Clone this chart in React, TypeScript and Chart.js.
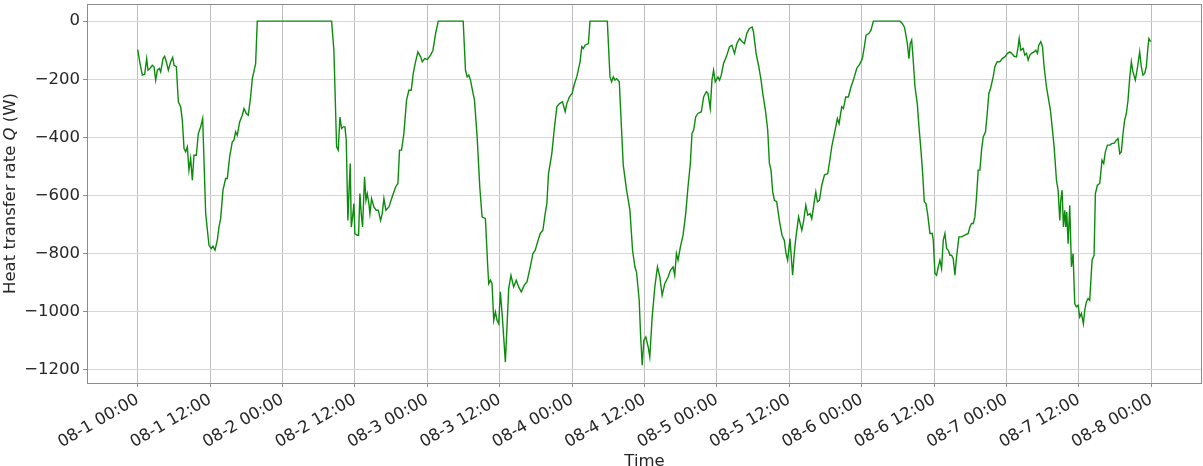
import React, { useEffect, useRef } from "react";
import { Chart, registerables } from "chart.js";

Chart.register(...registerables);

// hours since 08-1 00:00
const hours: number[] = [
  0.0, 0.39, 0.77, 1.16, 1.49, 1.71, 2.04, 2.43, 2.71, 2.98, 3.26, 3.59, 3.81, 4.2, 4.47, 4.75, 5.08, 5.47, 5.8, 6.02,
  6.41, 6.74, 7.12, 7.4, 7.68, 7.95, 8.23, 8.5, 8.78, 9.06, 9.33, 9.72, 10.05, 10.44, 10.77, 11.27, 11.82, 12.2, 12.48, 12.81,
  13.2, 13.47, 13.75, 14.14, 14.58, 14.85, 15.24, 15.68, 15.96, 16.23, 16.51, 16.9, 17.34, 17.62, 18.0, 18.33, 18.72, 19.0, 19.55, 19.82,
  32.14, 32.52, 32.97, 33.24, 33.52, 33.79, 34.07, 34.35, 34.57, 34.84, 35.06, 35.23, 35.4, 35.62, 35.84, 36.0, 36.39, 36.61, 36.83, 37.05,
  37.27, 37.6, 37.83, 38.05, 38.32, 38.49, 38.76, 39.15, 39.54, 39.87, 40.26, 40.53, 40.81, 41.14, 41.64, 42.19, 42.74, 43.13, 43.4, 43.73,
  44.12, 44.56, 44.95, 45.34, 45.67, 46.05, 46.44, 46.9, 47.17, 47.56, 48.0, 48.55, 48.94, 49.38, 49.82,
  53.95, 54.33, 54.61, 54.88, 55.16, 55.43, 55.82, 56.26, 56.7, 57.08, 57.63, 58.02, 58.18, 58.46, 58.73, 59.01, 59.29, 59.56, 59.84, 60.11,
  60.44, 60.94, 61.21, 61.49, 61.87, 62.31, 62.75, 63.14, 63.58, 64.07, 64.52, 65.07, 65.51, 65.89, 66.28, 66.72, 67.16, 67.54, 67.82, 68.09,
  68.64, 69.03, 69.47, 69.91, 70.41, 70.85, 71.12, 71.56, 72.0, 72.33, 72.77, 73.32, 73.6, 73.87, 74.15, 74.7, 74.97,
  77.84, 78.28, 78.55, 78.83, 79.1, 79.38, 79.82, 80.2, 80.48, 81.03, 81.58, 82.02, 82.41, 82.68, 83.12, 83.34, 83.62, 83.89, 84.22, 84.61,
  84.88, 85.27, 85.71, 86.15, 86.54, 86.92, 87.36, 87.91, 88.3, 88.74, 89.01, 89.29, 89.56, 89.95, 90.39, 90.83, 91.21, 91.6, 91.87, 92.15,
  92.48, 92.86, 93.42, 93.8, 94.24, 94.52, 94.9, 95.18, 95.45, 95.73, 96.17, 96.44, 96.72, 97.1, 97.55, 98.1, 98.48, 98.92, 99.31, 99.75,
  100.19, 100.57, 100.96, 101.4, 101.84, 102.06, 102.5, 102.94, 103.32, 103.6, 104.04, 104.42, 104.7, 104.97, 105.25, 105.53, 105.91, 106.35, 106.79, 107.17,
  107.45, 107.72, 108.11, 108.55, 108.82, 109.1, 109.54, 110.07, 110.35, 110.73, 111.06, 111.45, 111.72, 112.17, 112.39, 112.66, 112.99, 113.38, 113.82, 114.37,
  114.76, 115.03, 115.59, 115.97, 116.25, 116.69, 116.97, 117.35, 117.79, 118.23, 118.62, 119.17, 119.72, 120.11, 120.44, 120.72, 121.21, 121.54, 121.93,
  126.34, 126.73, 127.06, 127.28, 127.56, 127.83, 128.05, 128.28, 128.5, 128.83, 129.21, 129.49, 129.82, 130.1, 130.37, 130.65, 130.92, 131.31, 131.7, 131.86,
  132.14, 132.41, 132.69, 132.96, 133.24, 133.52, 133.79, 134.07, 134.34, 134.62, 134.9, 135.17, 135.45, 135.72, 136.11, 136.55, 137.1, 137.65, 137.93, 138.21,
  138.48, 138.76, 139.03, 139.31, 139.59, 139.86, 140.14, 140.52, 140.85, 141.07, 141.35, 141.79, 142.07, 142.45, 142.9, 143.28, 143.72, 144.16, 144.55, 144.83,
  145.27, 145.65, 145.93, 146.1, 146.37, 146.76, 147.03, 147.31, 147.59, 147.86, 148.14, 148.58, 148.85, 149.13, 149.35, 149.68, 149.96, 150.23, 150.62, 150.9,
  151.28, 151.56, 151.89, 152.28, 152.55, 152.83, 152.99, 153.21, 153.43, 153.65, 153.82, 153.98, 154.21, 154.48, 154.76, 155.03, 155.31, 155.58, 155.86, 156.14,
  156.41, 156.74, 156.96, 157.24, 157.52, 157.79, 158.18, 158.51, 158.73, 159.06, 159.45, 159.83, 160.11, 160.38, 160.72, 161.1, 161.49, 161.82, 162.21, 162.48,
  162.76, 163.03, 163.31, 163.58, 163.86, 164.14, 164.41, 164.69, 164.96, 165.35, 165.68, 166.07, 166.34, 166.62, 166.9, 167.17, 167.45, 167.61, 167.89,
];

// heat transfer rate Q (W)
const heatRate: number[] = [
  -98, -146, -186, -183, -129, -169, -163, -152, -157, -203, -169, -163, -175, -129, -121, -140, -169, -140, -125, -152,
  -157, -278, -295, -341, -439, -450, -433, -513, -473, -548, -462, -462, -387, -364, -335, -663, -772, -783, -775, -789,
  -754, -709, -680, -582, -542, -542, -467, -416, -410, -381, -393, -347, -324, -301, -318, -324, -261, -198, -146, 0,
  0, -100, -433, -444, -330, -370, -364, -364, -410, -686, -571, -490, -709, -674, -628, -732, -737, -737, -594, -663,
  -709, -536, -617, -594, -628, -663, -611, -640, -651, -651, -686, -663, -611, -651, -640, -605, -571, -559, -444, -444,
  -387, -272, -238, -238, -180, -140, -106, -123, -140, -129, -132, -117, -100, -42, 0,
  0, -169, -192, -186, -203, -232, -272, -398, -571, -674, -680, -846, -904, -892, -904, -1030, -1001, -1030, -1042, -932,
  -1019, -1174, -1053, -921, -875, -915, -892, -915, -932, -909, -898, -846, -800, -789, -760, -731, -720, -663, -628, -525,
  -456, -375, -295, -284, -278, -312, -284, -261, -249, -220, -192, -140, -88, -94, -83, -77, 0,
  0, -192, -209, -192, -203, -198, -209, -375, -496, -582, -651, -789, -846, -864, -961, -1076, -1185, -1099, -1088, -1122,
  -1156, -1019, -915, -846, -881, -944, -904, -881, -858, -846, -875, -800, -823, -777, -737, -663, -571, -490, -387, -375,
  -330, -318, -312, -261, -243, -249, -301, -203, -169, -209, -192, -203, -186, -146, -123, -88, -83, -111, -77, -60,
  -71, -77, -42, -25, -20, -37, -111, -157, -203, -249, -307, -375, -490, -513, -588, -617, -622, -686, -737, -754,
  -800, -823, -749, -875, -800, -743, -674, -720, -691, -634, -668, -663, -680, -617, -588, -622, -617, -565, -530, -525,
  -473, -433, -375, -335, -353, -295, -301, -261, -261, -226, -203, -163, -146, -129, -88, -48, -42, -31, 0,
  0, -8, -20, -42, -77, -129, -77, -65, -123, -226, -284, -364, -444, -525, -622, -628, -663, -731, -731, -754,
  -869, -875, -846, -823, -852, -754, -731, -783, -789, -806, -806, -818, -875, -812, -743, -743, -737, -731, -709, -697,
  -697, -674, -605, -513, -513, -444, -399, -381, -307, -249, -232, -192, -157, -140, -140, -129, -123, -111, -106, -111,
  -121, -123, -88, -60, -100, -94, -117, -111, -134, -117, -111, -106, -100, -111, -83, -71, -88, -157, -226, -261,
  -307, -364, -433, -548, -582, -686, -617, -582, -709, -651, -709, -657, -766, -634, -846, -800, -973, -984, -978, -1019,
  -1007, -1042, -996, -967, -955, -961, -823, -806, -594, -565, -559, -479, -490, -450, -427, -427, -421, -421, -410, -404,
  -456, -450, -387, -341, -318, -272, -198, -140, -175, -203, -163, -106, -157, -186, -180, -157, -88, -60, -71,
];

const xTicks: number[] = [0, 12, 24, 36, 48, 60, 72, 84, 96, 108, 120, 132, 144, 156, 168];
const yTicks: number[] = [0, -200, -400, -600, -800, -1000, -1200];

const X_MIN = -8.4;
const X_MAX = 176.4;
const Y_MIN = -1246;
const Y_MAX = 59;

const FONT = "'DejaVu Sans', sans-serif";
const FS = 16.5;

function fmtTime(h: number): string {
  const day = 1 + Math.floor(h / 24);
  const hr = Math.round(h % 24);
  return `08-${day} ${String(hr).padStart(2, "0")}:00`;
}

const framePlugin = {
  id: "framePlugin",
  afterDraw(chart: any) {
    const { ctx, chartArea } = chart;
    const { left, right, top, bottom } = chartArea;
    ctx.save();
    ctx.strokeStyle = "#8c8c8c";
    ctx.lineWidth = 1;
    ctx.strokeRect(Math.round(left) + 0.5, Math.round(top) + 0.5, Math.round(right - left) - 1, Math.round(bottom - top));
    // y-axis title with italic Q
    const cy = (top + bottom) / 2;
    const parts: [string, string][] = [
      ["Heat transfer rate ", `${FS}px ${FONT}`],
      ["Q", `italic ${FS}px ${FONT}`],
      [" (W)", `${FS}px ${FONT}`],
    ];
    let total = 0;
    const widths = parts.map(([t, f]) => {
      ctx.font = f;
      const w = ctx.measureText(t).width;
      total += w;
      return w;
    });
    ctx.translate(11, cy);
    ctx.rotate(-Math.PI / 2);
    ctx.fillStyle = "#262626";
    ctx.textBaseline = "middle";
    ctx.textAlign = "left";
    let x = -total / 2;
    parts.forEach(([t, f], i) => {
      ctx.font = f;
      ctx.fillText(t, x, 0);
      x += widths[i];
    });
    ctx.restore();
    // x-axis title
    ctx.save();
    ctx.font = `${FS}px ${FONT}`;
    ctx.fillStyle = "#262626";
    ctx.textAlign = "center";
    ctx.textBaseline = "top";
    ctx.fillText("Time", (left + right) / 2, 453);
    ctx.restore();
  },
};

export default function App() {
  const canvasRef = useRef<HTMLCanvasElement | null>(null);

  useEffect(() => {
    document.body.style.margin = "0";
    const canvas = canvasRef.current;
    if (!canvas) return;
    const points = hours.map((h, i) => ({ x: h, y: heatRate[i] }));
    const chart = new Chart(canvas, {
      type: "line",
      data: {
        datasets: [
          {
            data: points,
            borderColor: "#0c8c0c",
            borderWidth: 1.4,
            pointRadius: 0,
            tension: 0,
            fill: false,
          },
        ],
      },
      options: {
        animation: false,
        responsive: false,
        maintainAspectRatio: false,
        devicePixelRatio: 1,
        layout: { padding: { top: 4, right: 1, left: 0, bottom: 0 } },
        plugins: { legend: { display: false }, tooltip: { enabled: false } },
        scales: {
          x: {
            type: "linear",
            min: X_MIN,
            max: X_MAX,
            afterBuildTicks: (scale: any) => {
              scale.ticks = xTicks.map((v) => ({ value: v }));
            },
            afterFit: (scale: any) => {
              scale.height = 83;
              scale.paddingLeft = 0;
              scale.paddingRight = 0;
            },
            border: { display: false },
            grid: { color: "#bdbdbd", lineWidth: 1, tickLength: 4, tickColor: "#8c8c8c" },
            ticks: {
              autoSkip: false,
              minRotation: 30,
              maxRotation: 30,
              padding: 3,
              color: "#262626",
              font: { family: FONT, size: FS },
              callback: (v: any) => fmtTime(Number(v)),
            },
          },
          y: {
            type: "linear",
            min: Y_MIN,
            max: Y_MAX,
            afterBuildTicks: (scale: any) => {
              scale.ticks = yTicks.map((v) => ({ value: v }));
            },
            afterFit: (scale: any) => {
              scale.width = 87;
              scale.paddingTop = 0;
              scale.paddingBottom = 0;
            },
            border: { display: false },
            grid: { color: "#d6d6d6", lineWidth: 1, tickLength: 4, tickColor: "#8c8c8c" },
            ticks: {
              padding: 3,
              color: "#262626",
              font: { family: FONT, size: FS },
              callback: (v: any) => {
                const n = Number(v);
                return n < 0 ? "\u2212" + Math.abs(n) : String(n);
              },
            },
          },
        },
      },
      plugins: [framePlugin],
    });
    return () => chart.destroy();
  }, []);

  return (
    <div style={{ position: "absolute", left: 0, top: 0, width: 1203, height: 466 }}>
      <canvas ref={canvasRef} width={1203} height={466} style={{ width: 1203, height: 466 }} />
    </div>
  );
}
